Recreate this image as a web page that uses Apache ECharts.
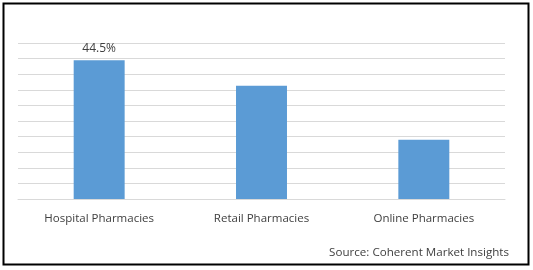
<!DOCTYPE html>
<html>
<head>
<meta charset="utf-8">
<script src="https://cdn.jsdelivr.net/npm/echarts@6/dist/echarts.min.js"></script>
<style>html,body{margin:0;padding:0;background:#fff;}#c{width:533px;height:270px;}</style>
</head>
<body>
<div id="c"></div>
<script>
const categories = ["Hospital Pharmacies", "Retail Pharmacies", "Online Pharmacies"];
const shares = [44.5, 36.3, 19.0];
const labelledIndex = 0;
const sourceText = "Source: Coherent Market Insights";

const chart = echarts.init(document.getElementById('c'), null, {renderer: 'canvas'});
chart.setOption({
  animation: false,
  backgroundColor: '#ffffff',
  grid: {left: 18, right: 28, top: 43, bottom: 71, containLabel: false},
  xAxis: {
    type: 'category',
    data: categories,
    axisLine: {lineStyle: {color: '#d9d9d9', width: 1}},
    axisTick: {show: false},
    axisLabel: {color: '#404040', fontSize: 11.5, fontFamily: 'Open Sans', margin: 14}
  },
  yAxis: {
    type: 'value',
    min: 0, max: 50, interval: 5,
    axisLine: {show: false},
    axisTick: {show: false},
    axisLabel: {show: false},
    splitLine: {lineStyle: {color: '#d9d9d9', width: 1}}
  },
  series: [{
    type: 'bar',
    barWidth: '31.4%',
    data: shares.map((v, i) => ({
      value: v,
      label: {show: i === labelledIndex}
    })),
    itemStyle: {color: '#5b9bd5'},
    label: {
      position: 'top',
      distance: 6,
      color: '#404040',
      fontSize: 12,
      fontFamily: 'Open Sans',
      formatter: p => p.value + '%'
    }
  }],
  graphic: [
    {type: 'rect', shape: {x: 3.5, y: 3.5, width: 525, height: 261}, style: {fill: 'none', stroke: '#000', lineWidth: 2}, z: 10},
    {type: 'text', right: 24, top: 247, style: {text: sourceText, fill: '#404040', font: '11.6px "Open Sans"'}}
  ]
});
</script>
</body>
</html>
